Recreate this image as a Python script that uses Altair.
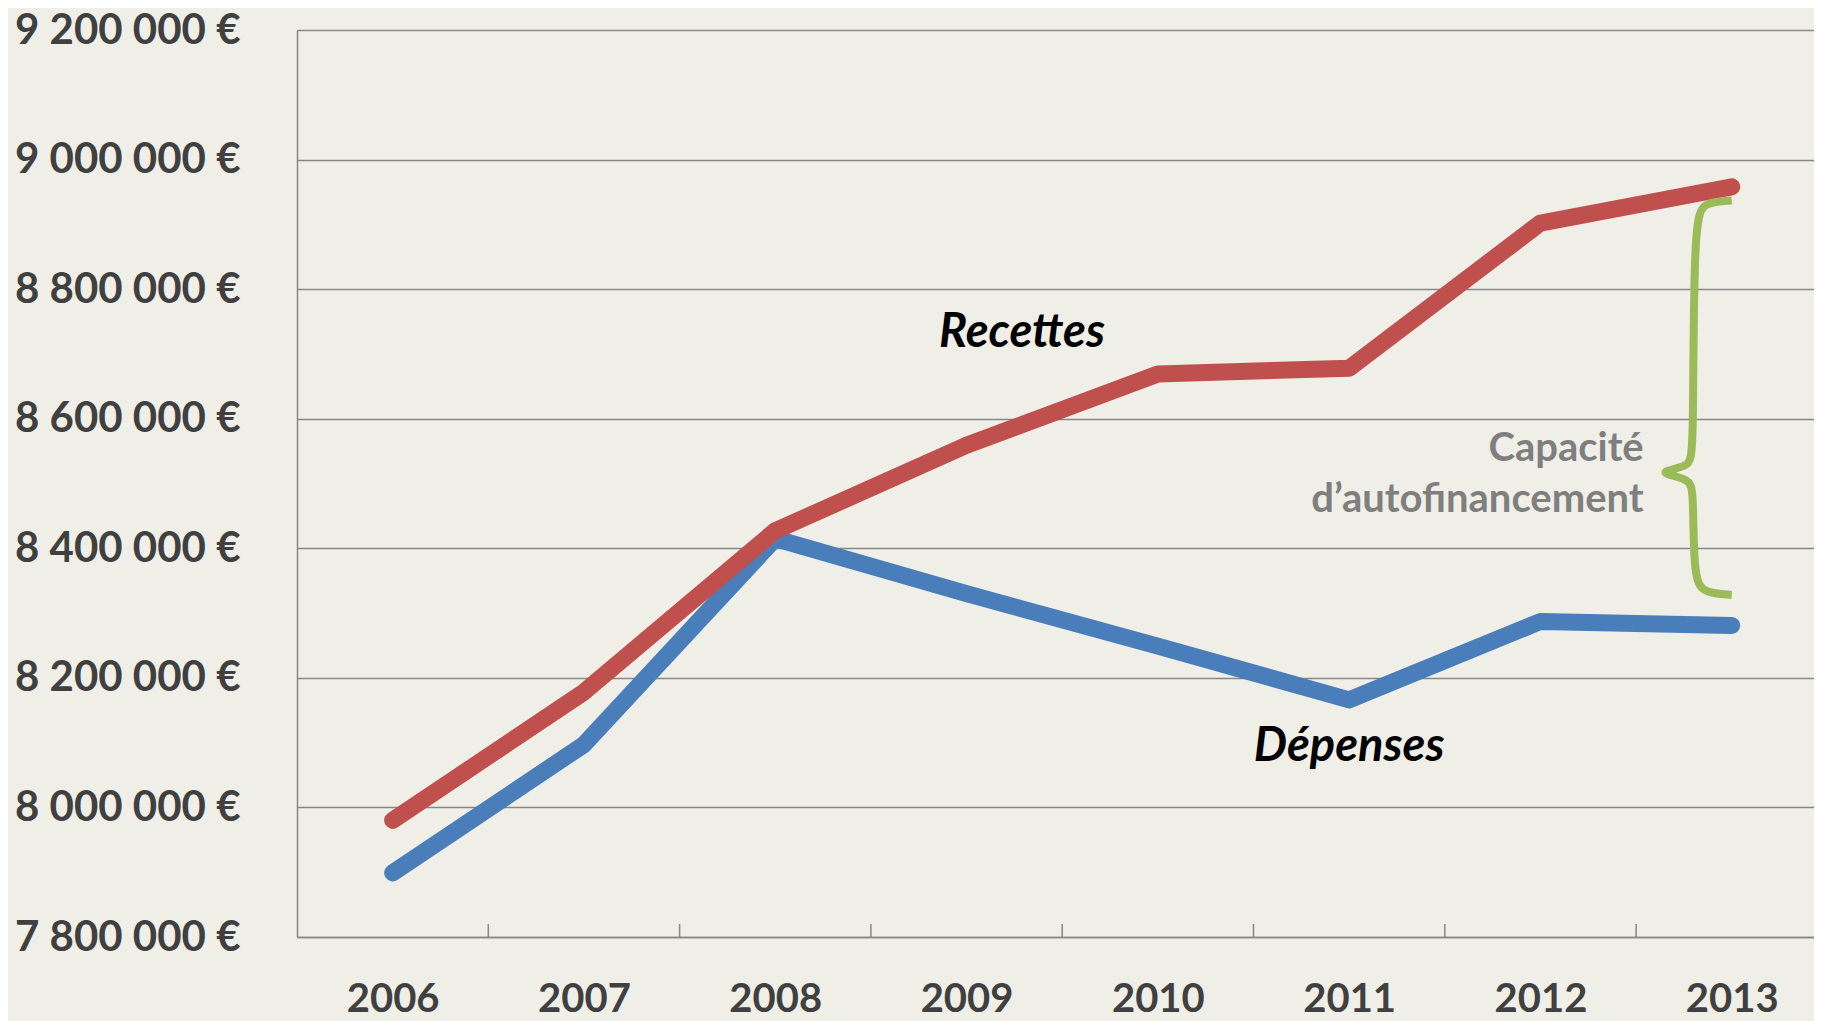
import altair as alt
import pandas as pd

# ---- data ----
years = [2006, 2007, 2008, 2009, 2010, 2011, 2012, 2013]
recettes = [7980000, 8178000, 8427000, 8559000, 8669000, 8678000, 8902000, 8958000]
depenses = [7899000, 8097000, 8415000, 8330000, 8249000, 8166000, 8287000, 8281000]
y_ticks = [7800000, 8000000, 8200000, 8400000, 8600000, 8800000, 9000000, 9200000]
tick_boundaries = [y + 0.5 for y in years[:-1]]

series_colors = ["#4A7EBB", "#C0504D"]

# series labels (in data coordinates)
label_text = ["Recettes", "Dépenses"]
label_x = [2009.29, 2011.0]
label_y = [8733000, 8094000]

# "Capacité d'autofinancement" annotation
caf_text = ["Capacité", "d’autofinancement"]
caf_x = [2012.54, 2012.54]
caf_y = [8554000, 8475000]

# curly brace between the two 2013 values
brace_x = [2013.0, 2012.86, 2012.80, 2012.80, 2012.78, 2012.59, 2012.78, 2012.80, 2012.80, 2012.86, 2013.0]
brace_y = [8937000, 8934000, 8912000, 8545000, 8526000, 8517000, 8508000, 8489000, 8350000, 8331000, 8328000]

# ---- tables ----
df = pd.DataFrame({
    "year": years * 2,
    "value": depenses + recettes,
    "serie": ["Dépenses"] * len(years) + ["Recettes"] * len(years),
})
ticks_df = pd.DataFrame({"b": tick_boundaries})
labels_df = pd.DataFrame({"t": label_text, "x": label_x, "y": label_y})
caf_df = pd.DataFrame({"t": caf_text, "x": caf_x, "y": caf_y})
brace_df = pd.DataFrame({"x": brace_x, "y": brace_y, "i": list(range(len(brace_x)))})

FONT = "Lato"
GRID = "#878787"
W, H = 1517, 907

xscale = alt.Scale(domain=[2005.5, 2013.43], nice=False, zero=False)
yscale = alt.Scale(domain=[7800000, 9200000], nice=False, zero=False)

x_axis = alt.Axis(
    values=years, format="d", title=None, ticks=False, tickSize=0, grid=False,
    domain=True, domainColor=GRID, domainWidth=1.5,
    labelFont=FONT, labelFontSize=40, labelFontWeight="bold", labelColor="#404040",
    labelPadding=42, labelBaseline="top", labelLimit=0,
)
y_axis = alt.Axis(
    values=y_ticks, title=None, ticks=False, tickSize=0, grid=True,
    gridColor=GRID, gridWidth=1.5, domain=True, domainColor=GRID, domainWidth=1.5,
    labelExpr="replace(format(datum.value, ','), regexp(',', 'g'), ' ') + ' €'",
    labelFont=FONT, labelFontSize=42, labelFontWeight="bold", labelColor="#404040",
    labelAlign="right", labelBaseline="middle", labelPadding=57, labelLimit=0,
)


def X(field):
    return alt.X(field, scale=xscale, axis=x_axis, title=None)


def Y(field):
    return alt.Y(field, scale=yscale, axis=y_axis, title=None)


base = alt.Chart(df)

blue = base.transform_filter(alt.datum.serie == "Dépenses").mark_line(
    strokeWidth=17, strokeCap="round", strokeJoin="round", color=series_colors[0]
).encode(x=X("year:Q"), y=Y("value:Q"))

red = base.transform_filter(alt.datum.serie == "Recettes").mark_line(
    strokeWidth=17, strokeCap="round", strokeJoin="round", color=series_colors[1]
).encode(x=X("year:Q"), y=Y("value:Q"))

ticks = alt.Chart(ticks_df).mark_rule(color=GRID, strokeWidth=1.5).encode(
    x=X("b:Q"),
    y=alt.value(H),
    y2=alt.value(H - 13),
)

brace = alt.Chart(brace_df).mark_line(
    color="#9BBB59", strokeWidth=8, interpolate="basis", strokeCap="butt"
).encode(x=X("x:Q"), y=Y("y:Q"), order="i:Q")

series_labels = alt.Chart(labels_df).mark_text(
    font=FONT, fontSize=47, fontWeight="bold", fontStyle="italic", color="#000000",
    align="center", baseline="middle",
).encode(x=X("x:Q"), y=Y("y:Q"), text="t:N")

caf = alt.Chart(caf_df).mark_text(
    font=FONT, fontSize=40, fontWeight="bold", color="#7F7F7F",
    align="right", baseline="middle",
).encode(x=X("x:Q"), y=Y("y:Q"), text="t:N")

chart = alt.layer(blue, ticks, red, brace, series_labels, caf).properties(
    width=W, height=H,
    autosize=alt.AutoSizeParams(type="none"),
    padding={"left": 289, "top": 22, "right": 0, "bottom": 84},
    background="#EFEFE7",
).configure_view(stroke=None)

chart.save("out.html", embed_options={"renderer": "svg", "actions": False})
